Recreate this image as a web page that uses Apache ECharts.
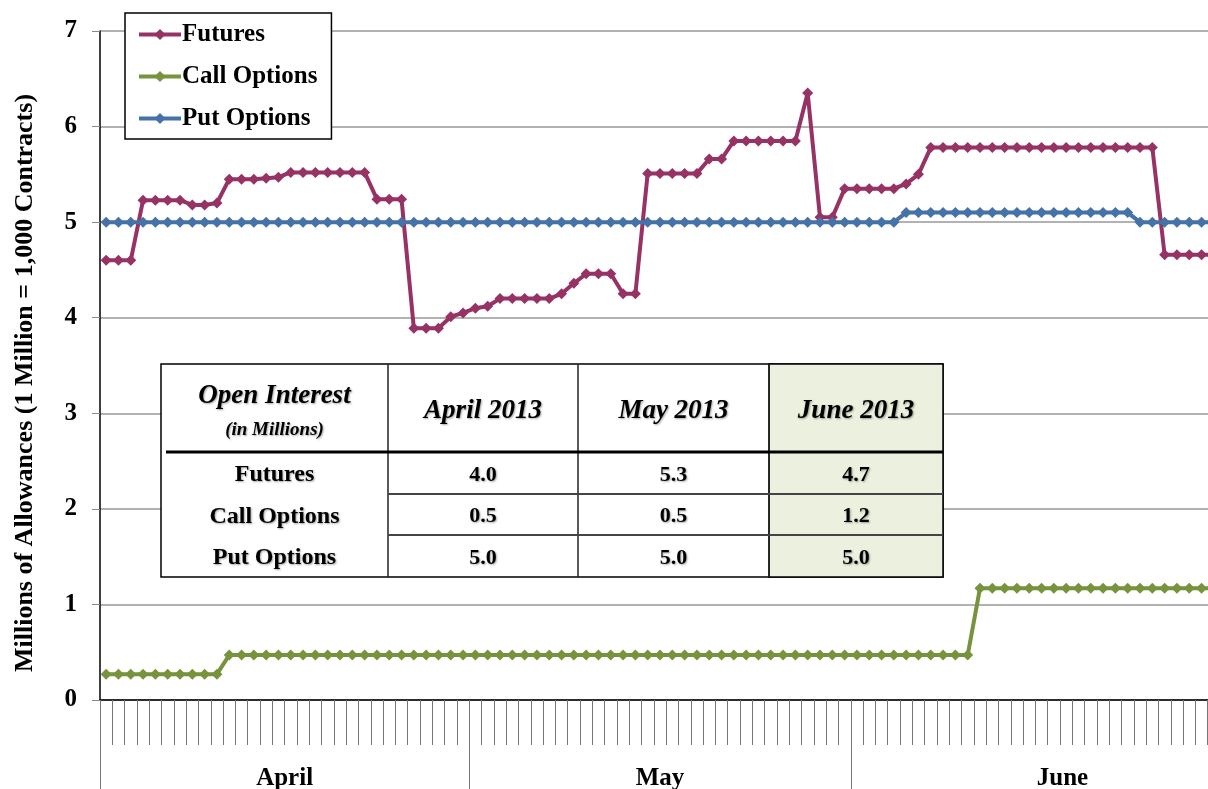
<!DOCTYPE html>
<html>
<head>
<meta charset="utf-8">
<script src="https://cdn.jsdelivr.net/npm/echarts@6/dist/echarts.min.js"></script>
<style>
  html, body { margin: 0; padding: 0; background: #fff; }
  #chart { width: 1208px; height: 789px; }
</style>
</head>
<body>
<div id="chart"></div>
<script>
// months shown on the x axis and how many days each one has
const months = ['April', 'May', 'June']
const monthDays = [30, 31, 30]

// daily open interest, millions of allowances
const futures = [
  4.60, 4.60, 4.60, 5.23, 5.23, 5.23, 5.23, 5.18, 5.18, 5.20,
  5.45, 5.45, 5.45, 5.46, 5.47, 5.52, 5.52, 5.52, 5.52, 5.52,
  5.52, 5.52, 5.24, 5.24, 5.24, 3.89, 3.89, 3.89, 4.01, 4.05,
  4.10, 4.12, 4.20, 4.20, 4.20, 4.20, 4.20, 4.25, 4.36, 4.46,
  4.46, 4.46, 4.25, 4.25, 5.51, 5.51, 5.51, 5.51, 5.51, 5.66,
  5.66, 5.85, 5.85, 5.85, 5.85, 5.85, 5.85, 6.35, 5.05, 5.05,
  5.35, 5.35, 5.35, 5.35, 5.35, 5.40, 5.50, 5.78, 5.78, 5.78,
  5.78, 5.78, 5.78, 5.78, 5.78, 5.78, 5.78, 5.78, 5.78, 5.78,
  5.78, 5.78, 5.78, 5.78, 5.78, 5.78, 4.66, 4.66, 4.66, 4.66,
  4.66
]
const callOptions = [
  0.27, 0.27, 0.27, 0.27, 0.27, 0.27, 0.27, 0.27, 0.27, 0.27,
  0.47, 0.47, 0.47, 0.47, 0.47, 0.47, 0.47, 0.47, 0.47, 0.47,
  0.47, 0.47, 0.47, 0.47, 0.47, 0.47, 0.47, 0.47, 0.47, 0.47,
  0.47, 0.47, 0.47, 0.47, 0.47, 0.47, 0.47, 0.47, 0.47, 0.47,
  0.47, 0.47, 0.47, 0.47, 0.47, 0.47, 0.47, 0.47, 0.47, 0.47,
  0.47, 0.47, 0.47, 0.47, 0.47, 0.47, 0.47, 0.47, 0.47, 0.47,
  0.47, 0.47, 0.47, 0.47, 0.47, 0.47, 0.47, 0.47, 0.47, 0.47,
  0.47, 1.17, 1.17, 1.17, 1.17, 1.17, 1.17, 1.17, 1.17, 1.17,
  1.17, 1.17, 1.17, 1.17, 1.17, 1.17, 1.17, 1.17, 1.17, 1.17,
  1.17
]
const putOptions = [
  5.0, 5.0, 5.0, 5.0, 5.0, 5.0, 5.0, 5.0, 5.0, 5.0,
  5.0, 5.0, 5.0, 5.0, 5.0, 5.0, 5.0, 5.0, 5.0, 5.0,
  5.0, 5.0, 5.0, 5.0, 5.0, 5.0, 5.0, 5.0, 5.0, 5.0,
  5.0, 5.0, 5.0, 5.0, 5.0, 5.0, 5.0, 5.0, 5.0, 5.0,
  5.0, 5.0, 5.0, 5.0, 5.0, 5.0, 5.0, 5.0, 5.0, 5.0,
  5.0, 5.0, 5.0, 5.0, 5.0, 5.0, 5.0, 5.0, 5.0, 5.0,
  5.0, 5.0, 5.0, 5.0, 5.0, 5.1, 5.1, 5.1, 5.1, 5.1,
  5.1, 5.1, 5.1, 5.1, 5.1, 5.1, 5.1, 5.1, 5.1, 5.1,
  5.1, 5.1, 5.1, 5.1, 5.0, 5.0, 5.0, 5.0, 5.0, 5.0,
  5.0
]

// summary table
const tableTitle = ['Open Interest', '(in Millions)']
const tableCols = ['April 2013', 'May 2013', 'June 2013']
const tableRows = ['Futures', 'Call Options', 'Put Options']
const tableValues = [
  [4.0, 5.3, 4.7],
  [0.5, 0.5, 1.2],
  [5.0, 5.0, 5.0]
]

const yTicks = [0, 1, 2, 3, 4, 5, 6, 7]
const yTitle = 'Millions of Allowances (1 Million = 1,000 Contracts)'

// one category per calendar day
const days = []
months.forEach((m, k) => {
  for (let d = 1; d <= monthDays[k]; d++) days.push(m + ' ' + d)
})
const monthStarts = [0]
monthDays.forEach(n => monthStarts.push(monthStarts[monthStarts.length - 1] + n))

const serif = '"Liberation Serif", "Times New Roman", serif'
const shadow = { textShadowColor: 'rgba(0,0,0,0.35)', textShadowBlur: 2, textShadowOffsetX: 1, textShadowOffsetY: 1 }

// table drawn as graphic elements
const colX = [161, 388, 578, 769, 943]
const rowY = [364, 452, 494, 535, 577]
const table = []
table.push({ type: 'rect', shape: { x: colX[0], y: rowY[0], width: colX[4] - colX[0], height: rowY[4] - rowY[0] },
  style: { fill: '#fff', stroke: '#000', lineWidth: 1.5 }, z: 100 })
table.push({ type: 'rect', shape: { x: colX[3], y: rowY[0], width: colX[4] - colX[3], height: rowY[4] - rowY[0] },
  style: { fill: '#ebf1de', stroke: '#000', lineWidth: 1.5 }, z: 101 })
for (let c = 1; c <= 3; c++) {
  table.push({ type: 'line', shape: { x1: colX[c], y1: rowY[0], x2: colX[c], y2: rowY[4] },
    style: { stroke: '#222', lineWidth: 1.5 }, z: 102 })
}
table.push({ type: 'line', shape: { x1: colX[0] + 5, y1: rowY[1], x2: colX[4], y2: rowY[1] },
  style: { stroke: '#000', lineWidth: 3 }, z: 102 })
for (let r = 2; r <= 3; r++) {
  table.push({ type: 'line', shape: { x1: colX[1], y1: rowY[r], x2: colX[4], y2: rowY[r] },
    style: { stroke: '#444', lineWidth: 2 }, z: 102 })
}
const txt = (text, x, y, size, italic) => ({
  type: 'text', z: 103,
  style: Object.assign({ text, x, y, align: 'center', verticalAlign: 'middle', fill: '#000',
    fontFamily: serif, fontWeight: 'bold', fontStyle: italic ? 'italic' : 'normal', fontSize: size }, shadow)
})
table.push(txt(tableTitle[0], (colX[0] + colX[1]) / 2, 396, 27, true))
table.push(txt(tableTitle[1], (colX[0] + colX[1]) / 2, 430, 19, true))
tableCols.forEach((t, c) => table.push(txt(t, (colX[c + 1] + colX[c + 2]) / 2, 411, 27, true)))
tableRows.forEach((t, r) => {
  const y = (rowY[r + 1] + rowY[r + 2]) / 2 + 2
  table.push(txt(t, (colX[0] + colX[1]) / 2, y, 24, false))
  tableValues[r].forEach((v, c) => table.push(txt(v.toFixed(1), (colX[c + 1] + colX[c + 2]) / 2, y, 22, false)))
})

// y axis title, set a little below the middle like the original
table.push({
  type: 'text', x: 25, y: 383, rotation: Math.PI / 2, z: 50,
  style: { text: yTitle, align: 'center', verticalAlign: 'middle', fill: '#000',
    fontFamily: serif, fontWeight: 'bold', fontSize: 26 }
})

const lineSeries = (name, data, color) => ({
  name, type: 'line', data,
  xAxisIndex: 0, yAxisIndex: 0,
  symbol: 'diamond', symbolSize: 11, showAllSymbol: true,
  lineStyle: { width: 4, color },
  itemStyle: { color },
  emphasis: { disabled: true },
  z: 3
})

const myChart = echarts.init(document.getElementById('chart'))
const option = {
  animation: false,
  backgroundColor: '#fff',
  // the plot runs a little past the right edge of the picture
  grid: { left: 100, width: 1120, top: 31, bottom: 89, containLabel: false, outerBoundsMode: 'none' },
  legend: {
    orient: 'vertical', left: 125, top: 13,
    padding: [9, 14, 8, 12],
    itemWidth: 42, itemHeight: 14, itemGap: 17,
    lineStyle: { width: 4 },
    backgroundColor: '#fff', borderColor: '#000', borderWidth: 1.5, borderRadius: 0,
    textStyle: { fontFamily: serif, fontWeight: 'bold', fontSize: 25, color: '#000', padding: [0, 0, 0, -4] },
    z: 10,
    data: ['Futures', 'Call Options', 'Put Options']
  },
  xAxis: [
    {
      type: 'category', data: days, boundaryGap: true,
      axisLine: { lineStyle: { color: '#000', width: 1.5 } },
      axisTick: { show: true, interval: 0, length: 45, lineStyle: { color: '#777', width: 1 } },
      axisLabel: { show: false },
      splitLine: { show: false }
    },
    {
      type: 'value', min: 0, max: monthStarts[monthStarts.length - 1], position: 'bottom',
      axisLine: { show: false },
      axisTick: { show: true, length: 89, customValues: monthStarts, lineStyle: { color: '#777', width: 1 } },
      axisLabel: {
        show: true, margin: 66,
        // month labels sit near the middle of each month's span (June is cut off at the right edge)
        customValues: [15, 45.5, 78.2],
        formatter: v => months[monthStarts.findIndex((s, k) => v >= s && v < monthStarts[k + 1])],
        fontFamily: serif, fontWeight: 'bold', fontSize: 25, color: '#000'
      },
      splitLine: { show: false }
    }
  ],
  yAxis: {
    type: 'value', min: yTicks[0], max: yTicks[yTicks.length - 1], interval: 1,
    axisLine: { show: true, lineStyle: { color: '#000', width: 1.5 } },
    axisTick: { show: true, length: 8, lineStyle: { color: '#888', width: 1 } },
    axisLabel: { margin: 23, fontFamily: serif, fontWeight: 'bold', fontSize: 25, color: '#000' },
    splitLine: { show: true, lineStyle: { color: '#999', width: 1.5 } }
  },
  series: [
    lineSeries('Futures', futures, '#963264'),
    lineSeries('Call Options', callOptions, '#77933c'),
    lineSeries('Put Options', putOptions, '#4572a7')
  ],
  graphic: table
}
myChart.setOption(option)
window.addEventListener('resize', function () {
  myChart.resize()
})
</script>
</body>
</html>
